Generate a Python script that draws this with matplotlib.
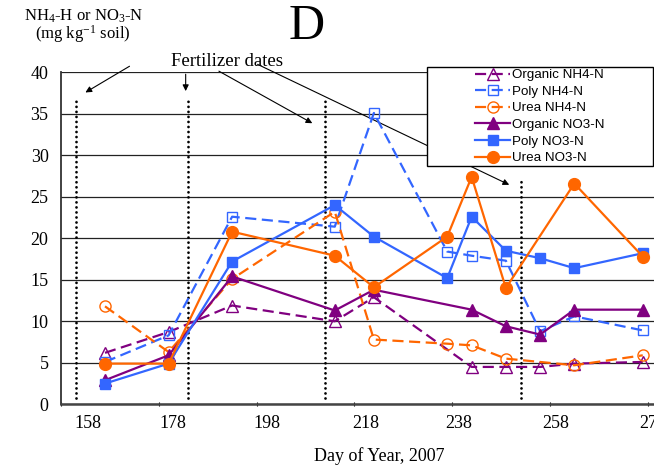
import numpy as np
import matplotlib
matplotlib.use("Agg")
import matplotlib.pyplot as plt
from matplotlib.patches import Rectangle
from matplotlib.transforms import ScaledTranslation

plt.rcParams['font.family'] = 'Liberation Serif'
plt.rcParams['mathtext.fontset'] = 'custom'
plt.rcParams['mathtext.rm'] = 'Liberation Serif'
plt.rcParams['mathtext.it'] = 'Liberation Serif:italic'

# sampling days (day of year 2007)
days = [167, 180, 193, 214, 222, 237, 242, 249, 256, 263, 277]
nan = np.nan
organic_nh4 = [6.2, 8.7, 11.9, 10.0, 12.9, nan, 4.5, 4.5, 4.5, 4.9, 5.1]
poly_nh4 = [5.1, 8.3, 22.6, 21.4, 35.1, 18.4, 17.9, 17.3, 8.8, 10.6, 8.9]
urea_nh4 = [11.8, 6.3, 15.1, 23.2, 7.8, 7.3, 7.1, 5.5, nan, 4.7, 5.9]
organic_no3 = [2.9, 5.9, 15.4, 11.3, 13.8, nan, 11.4, 9.4, 8.4, 11.4, 11.4]
poly_no3 = [2.5, 4.9, 17.2, 24.0, 20.2, 15.2, 22.6, 18.5, 17.6, 16.4, 18.2]
urea_no3 = [4.9, 4.9, 20.8, 17.9, 14.1, 20.2, 27.4, 14.0, nan, 26.6, 17.8]

fert_days = [161, 184, 212, 252]
fert_tops = [36.5, 36.5, 36.5, 27.4]

xticks = [158, 178, 198, 218, 238, 258, 278]
yticks = [0, 5, 10, 15, 20, 25, 30, 35, 40]

purple = '#800080'
blue = '#3366FF'
orange = '#FF6600'

fig = plt.figure(figsize=(6.54, 4.67), dpi=100)
ax = fig.add_axes([0.0933, 0.1343, 0.9067, 0.7109])

x = np.array(days, dtype=float)

def draw(vals, color, marker, dashed, filled, label, ms):
    v = np.array(vals, dtype=float)
    m = ~np.isnan(v)
    ls = (0, (5, 2.5)) if dashed else '-'
    ax.plot(x[m], v[m], color=color, lw=1.6, linestyle=ls, marker=marker,
            markersize=ms, markerfacecolor=color if filled else 'none',
            markeredgecolor=color, markeredgewidth=1.0, label=label, zorder=4)

draw(organic_nh4, purple, '^', True, False, 'Organic NH4-N', 8)
draw(poly_nh4, blue, 's', True, False, 'Poly NH4-N', 7.5)
draw(urea_nh4, orange, 'o', True, False, 'Urea NH4-N', 8)
draw(organic_no3, purple, '^', False, True, 'Organic NO3-N', 8)
draw(poly_no3, blue, 's', False, True, 'Poly NO3-N', 7.5)
draw(urea_no3, orange, 'o', False, True, 'Urea NO3-N', 8.5)

# fertilizer dates
for d, t in zip(fert_days, fert_tops):
    ax.plot([d, d], [0.7, t], color='black', lw=2.0, linestyle=(0, (0.01, 1.8)),
            dash_capstyle='round', zorder=2)

ax.set_xlim(158, 279.3)
ax.set_ylim(0, 40)
ax.set_xticks(xticks)
ax.set_yticks(yticks)
ax.yaxis.grid(True, color='#222222', lw=0.9)
ax.set_axisbelow(True)
for s in ['top', 'right']:
    ax.spines[s].set_visible(False)
ax.spines['left'].set_color('#333333')
ax.spines['left'].set_linewidth(1.3)
ax.spines['bottom'].set_color('#444444')
ax.spines['bottom'].set_linewidth(1.8)
ax.tick_params(axis='y', length=0, pad=9, labelsize=13)
ax.tick_params(axis='x', length=3, direction='inout', pad=6, labelsize=13)
# tick labels in the original sit a little right of their ticks
label_shift_px = [27, 14, 10, 11, 7, 6, 5]
for lab, dx in zip(ax.get_xticklabels(), label_shift_px):
    lab.set_transform(lab.get_transform() + ScaledTranslation(dx / 100, 0, fig.dpi_scale_trans))

# annotations
fig.text(0.128, 0.966, 'NH$_\\mathrm{4}$-H or NO$_\\mathrm{3}$-N', ha='center', va='center', fontsize=12)
fig.text(0.127, 0.928, '(mg kg$^\\mathrm{-1}$ soil)', ha='center', va='center', fontsize=12)
fig.text(0.469, 0.942, 'D', ha='center', va='center', fontsize=36)
fig.text(0.5795, 0.024, 'Day of Year, 2007', ha='center', va='center', fontsize=13)

ax.text(192, 41.25, 'Fertilizer dates', ha='center', va='center', fontsize=13.5,
        transform=ax.transData, clip_on=False)
arr = dict(arrowstyle='-|>', color='black', lw=0.8, mutation_scale=9)
ax.annotate('', xy=(162.5, 37.4), xytext=(172.5, 40.9), arrowprops=arr, annotation_clip=False)
ax.annotate('', xy=(183.5, 37.4), xytext=(183.5, 40.1), arrowprops=arr, annotation_clip=False)
ax.annotate('', xy=(209.9, 33.7), xytext=(189.8, 40.3), arrowprops=arr, annotation_clip=False)
ax.annotate('', xy=(250.2, 26.3), xytext=(197.7, 41.1), arrowprops=arr, annotation_clip=False)

# legend box
fig.add_artist(Rectangle((0.653, 0.6445), 0.345, 0.212, transform=fig.transFigure,
                         facecolor='white', edgecolor='black', lw=1.0, zorder=3))
fig.legend(loc='center', bbox_to_anchor=(0.653, 0.6445, 0.345, 0.212),
           frameon=False, prop={'family': 'Liberation Sans', 'size': 9.6},
           handlelength=2.6, handletextpad=0.15, labelspacing=0.32,
           borderpad=0.2, numpoints=1)

fig.savefig('out.png', dpi=100)
